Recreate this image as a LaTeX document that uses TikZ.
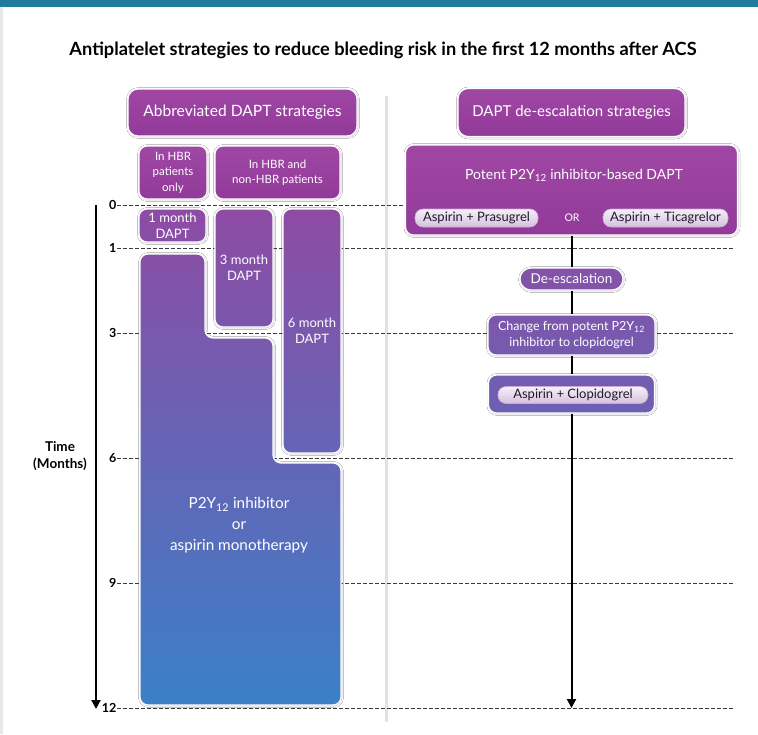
\documentclass[tikz,border=0pt]{standalone}
\usepackage{fontspec}
\setmainfont{Lato}
\usetikzlibrary{arrows.meta,shadows.blur}

\definecolor{barteal}{HTML}{1F7A9C}
\definecolor{magA}{HTML}{A047A5}
\definecolor{magB}{HTML}{923A99}
\definecolor{gA}{HTML}{8E4BA4}
\definecolor{gB}{HTML}{3A80C8}
\definecolor{dashgray}{HTML}{3A3A3A}
\definecolor{sepgray}{HTML}{E2E2E2}
\definecolor{pilltop}{HTML}{F6F0F8}
\definecolor{pillbot}{HTML}{D6C0DE}
\definecolor{pilledge}{HTML}{C9A9D2}
\definecolor{pilltext}{HTML}{1C1A2C}

\newcommand\fs[2]{\fontsize{#1}{#2}\selectfont}

\tikzset{
  panel/.style={rounded corners=8pt, draw=white, line width=1.2pt,
    blur shadow={shadow xshift=0.5pt, shadow yshift=-0.5pt,
      shadow blur radius=2pt, shadow opacity=30},
    text=white, align=center, inner sep=0pt},
  magpanel/.style={panel, top color=magA, bottom color=magB},
  pillbox/.style={rounded corners=8pt, draw=pilledge, line width=0.6pt,
    top color=pilltop, bottom color=pillbot, text=pilltext,
    font=\fs{13}{15}, inner sep=0pt},
  gridline/.style={draw=dashgray, line width=0.8pt, dash pattern=on 4pt off 2pt},
  flow/.style={draw=black, line width=2pt},
  flowarrow/.style={flow, -{Triangle[width=9pt,length=9pt]}},
  monthlabel/.style={anchor=east, inner sep=0.5pt, font=\bfseries\fs{12.5}{14}},
}

\begin{document}
\begin{tikzpicture}[x=1pt, y=-1pt]
  \useasboundingbox (0,0) rectangle (758,734);
  \fill[white] (0,0) rectangle (758,734);

  % page frame: top band and left edge
  \fill[barteal] (0,0) rectangle (758,6.5);
  \fill[black!9] (0,6.5) rectangle (2.5,734);

  % column separator
  \draw[sepgray, line width=3pt] (386,96) -- (386,722);

  % title
  \node[font=\bfseries\fs{18.2}{21}] (title) at (383,50)
    {Antiplatelet strategies to reduce bleeding risk in the first 12 months after ACS};

  % month grid
  \foreach \m/\y in {0/205, 1/248, 3/333, 6/458, 9/583, 12/708} {
    \node[monthlabel] (m\m) at (117,\y) {\m};
    \coordinate (e\m) at (735,\y);
    \draw[gridline] (m\m.east) -- (e\m);
  }

  % time axis
  \coordinate (t0) at (96,205);
  \coordinate (t12) at (96,709);
  \draw[flowarrow] (t0) -- (t12);
  \node[font=\bfseries\fs{13.5}{17}, align=center] (time) at (60,456) {Time\\(Months)};

  % ---------------- abbreviated DAPT column ----------------
  \node[magpanel, rounded corners=10pt, minimum width=229pt, minimum height=47pt,
        font=\fs{15.6}{18}] (abbr) at (242.5,112.5) {Abbreviated DAPT strategies};
  \node[magpanel, minimum width=68pt, minimum height=53pt, font=\fs{11.5}{15.5}]
    (hbr) at (173,172.5) {In HBR\\patients\\only};
  \node[magpanel, minimum width=125pt, minimum height=53pt, font=\fs{11.5}{15.5}]
    (hbrall) at (277.5,172.5) {In HBR and\\non-HBR patients};

  \node[panel, top color=gA, bottom color=gA!93!gB, minimum width=67pt,
        minimum height=33pt, font=\fs{13}{16}] (one) at (172.5,225.5) {1 month\\DAPT};
  \node[panel, top color=gA, bottom color=gA!76!gB, minimum width=58pt,
        minimum height=118pt, font=\fs{13}{16}] (three) at (244,268) {3 month\\DAPT};
  \node[panel, top color=gA, bottom color=gA!51!gB, minimum width=58pt,
        minimum height=244pt, font=\fs{13}{16}] (six) at (312,331) {6 month\\DAPT};

  \path[panel, top color=gA!91!gB, bottom color=gB]
    (140,254) -- (205,254) -- (205,338) -- (273,338) -- (273,463)
    -- (341,463) -- (341,705) -- (140,705) -- cycle;
  \node[text=white, align=center, font=\fs{15.3}{21}] (mono) at (239,525)
    {P2Y\textsubscript{12} inhibitor\\or\\aspirin monotherapy};

  % ---------------- de-escalation column ----------------
  \node[magpanel, rounded corners=10pt, minimum width=227pt, minimum height=48pt,
        font=\fs{15}{18}] (deh) at (571.5,112.5) {DAPT de-escalation strategies};
  \node[magpanel, minimum width=332pt, minimum height=90pt] (potent) at (571.5,190) {};
  \node[text=white, font=\fs{14}{17}] (potentlbl) at (574,175)
    {Potent P2Y\textsubscript{12} inhibitor-based DAPT};
  \node[pillbox, minimum width=123pt, minimum height=18pt] (pras) at (476.5,218)
    {Aspirin + Prasugrel};
  \node[text=white, font=\fs{10.5}{12}] (or) at (572,218) {OR};
  \node[pillbox, minimum width=125pt, minimum height=18pt] (tica) at (665.5,218)
    {Aspirin + Ticagrelor};

  \node[panel, rounded corners=11pt, top color=gA!88!gB, bottom color=gA!84!gB,
        minimum width=103pt, minimum height=22pt, font=\fs{13.5}{15}]
    (deesc) at (571.5,279) {De-escalation};
  \node[panel, top color=gA!78!gB, bottom color=gA!70!gB,
        minimum width=167pt, minimum height=40pt, font=\fs{12.5}{16}]
    (change) at (571.5,335) {Change from potent P2Y\textsubscript{12}\\inhibitor to clopidogrel};
  \node[panel, top color=gA!67!gB, bottom color=gA!60!gB,
        minimum width=166pt, minimum height=38pt] (clopi) at (571.5,394) {};
  \node[pillbox, minimum width=150pt, minimum height=17pt] (clopipill) at (573,395)
    {Aspirin + Clopidogrel};

  \coordinate (rend) at (571.5,708);
  \draw[flow] (potent.south) -- (deesc.north);
  \draw[flow] (deesc.south) -- (change.north);
  \draw[flow] (change.south) -- (clopi.north);
  \draw[flowarrow] (clopi.south) -- (rend);
\end{tikzpicture}
\end{document}
